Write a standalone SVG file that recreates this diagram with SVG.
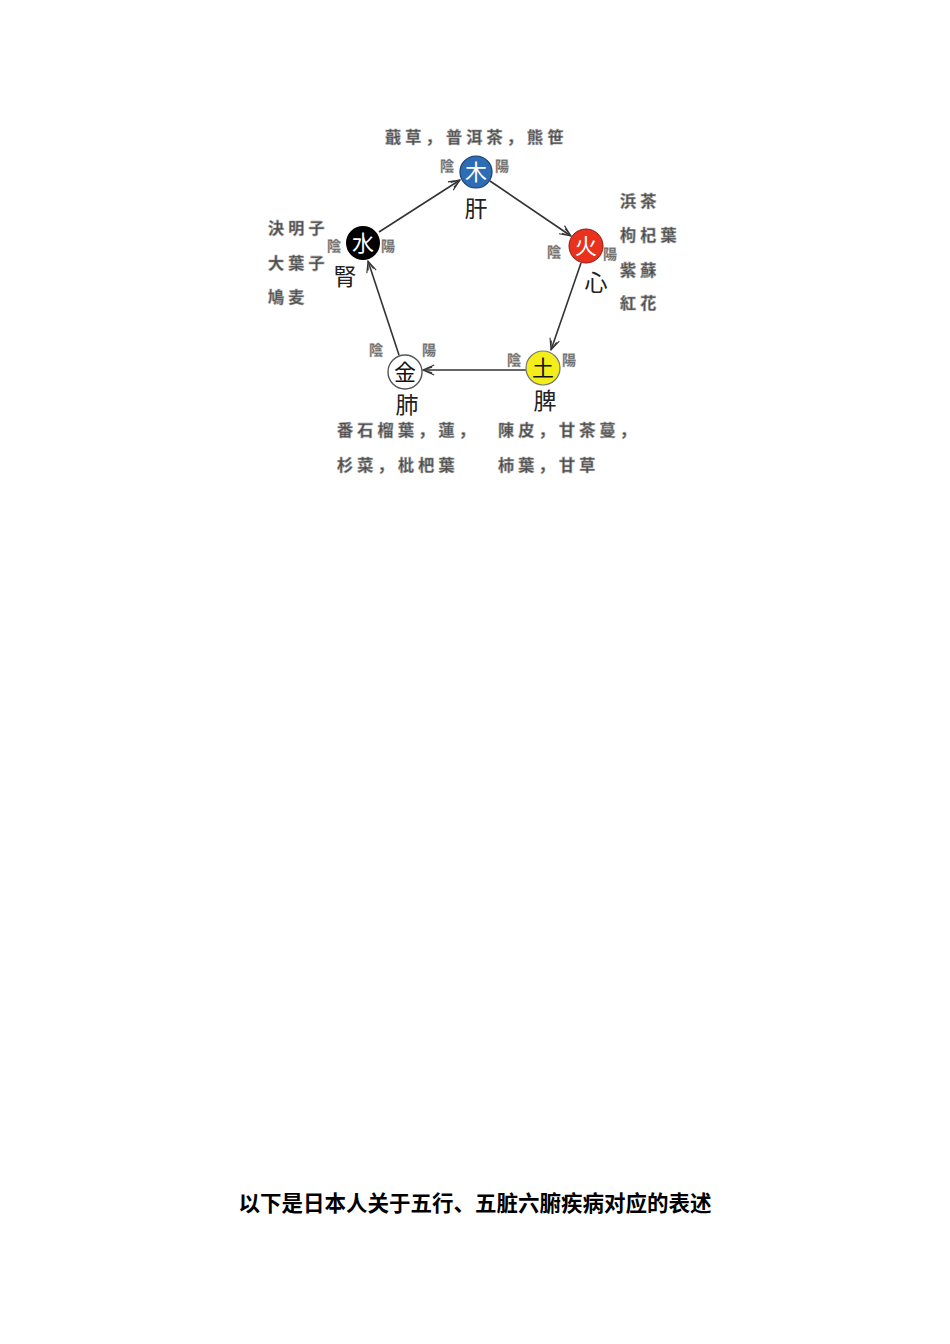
<svg xmlns="http://www.w3.org/2000/svg" width="950" height="1344" viewBox="0 0 950 1344">
<style>
.herb{font-family:"Noto Sans CJK JP","Noto Sans CJK SC",sans-serif;font-size:16px;font-weight:bold;fill:#4a4a4a;stroke:#999;stroke-width:0.6;letter-spacing:4.3px}
.yy{font-family:"Noto Sans CJK JP","Noto Sans CJK SC",sans-serif;font-size:14px;font-weight:bold;fill:#666;stroke:#aaa;stroke-width:0.4}
.organ{font-family:"Noto Sans CJK JP","Noto Sans CJK SC",sans-serif;font-size:23px;fill:#222;text-anchor:middle}
.elem{font-family:"Noto Sans CJK JP","Noto Sans CJK SC",sans-serif;font-size:22px;text-anchor:middle}
.edge{stroke:#333;stroke-width:1.6;fill:none;marker-end:url(#arr)}
.title{font-family:"Noto Sans CJK SC",sans-serif;font-size:21.5px;font-weight:bold;fill:#000;text-anchor:middle}
</style>
<defs>
<marker id="arr" viewBox="0 0 20 20" refX="18" refY="10" markerWidth="14" markerHeight="14" markerUnits="userSpaceOnUse" orient="auto">
<path d="M2,3 L18,10 L2,17 M5,6 L18,10 M5,14 L18,10" stroke="#333" stroke-width="1.6" fill="none"/>
</marker>
</defs>
<rect width="950" height="1344" fill="#fff"/>
<g id="connectors">
<line class="edge" x1="379" y1="232" x2="460" y2="180"/>
<line class="edge" x1="490" y1="181" x2="571" y2="236"/>
<line class="edge" x1="581" y1="263" x2="551" y2="350"/>
<line class="edge" x1="526" y1="370" x2="423" y2="370"/>
<line class="edge" x1="399" y1="355" x2="368" y2="261"/>
</g>
<g id="wood">
<text class="herb" x="385" y="143">蕺草，普洱茶，熊笹</text>
<text class="yy" x="440" y="171">陰</text>
<text class="yy" x="495" y="171">陽</text>
<circle cx="476" cy="172" r="16" fill="#2d6db4" stroke="#1a3e6e" stroke-width="1.2"/>
<text class="elem" x="476" y="180" fill="#fff">木</text>
<text class="organ" x="476" y="217">肝</text>
</g>
<g id="fire">
<text class="herb" x="620" y="207">浜茶</text>
<text class="herb" x="620" y="241">枸杞葉</text>
<text class="herb" x="620" y="276">紫蘇</text>
<text class="herb" x="620" y="309">紅花</text>
<text class="yy" x="547" y="257">陰</text>
<text class="yy" x="603" y="259">陽</text>
<circle cx="586" cy="246" r="17" fill="#e8321e" stroke="#8a1a10" stroke-width="1"/>
<text class="elem" x="586" y="254" fill="#fff">火</text>
<text class="organ" x="596" y="291">心</text>
</g>
<g id="earth">
<text class="herb" x="498" y="436">陳皮，甘茶蔓，</text>
<text class="herb" x="498" y="471">柿葉，甘草</text>
<text class="yy" x="507" y="365">陰</text>
<text class="yy" x="562" y="365">陽</text>
<circle cx="543" cy="368" r="17" fill="#f3ee1a" stroke="#777" stroke-width="1.2"/>
<text class="elem" x="543" y="376" fill="#111">土</text>
<text class="organ" x="545" y="409">脾</text>
</g>
<g id="metal">
<text class="herb" x="337" y="436">番石榴葉，蓮，</text>
<text class="herb" x="337" y="471">杉菜，枇杷葉</text>
<text class="yy" x="369" y="355">陰</text>
<text class="yy" x="422" y="355">陽</text>
<circle cx="405" cy="372" r="17" fill="#fff" stroke="#555" stroke-width="1.4"/>
<text class="elem" x="405" y="380" fill="#111">金</text>
<text class="organ" x="407" y="413">肺</text>
</g>
<g id="water">
<text class="herb" x="268" y="234">決明子</text>
<text class="herb" x="268" y="269">大葉子</text>
<text class="herb" x="268" y="303">鳩麦</text>
<text class="yy" x="327" y="251">陰</text>
<text class="yy" x="381" y="251">陽</text>
<circle cx="363" cy="243" r="17" fill="#000"/>
<text class="elem" x="363" y="251" fill="#fff">水</text>
<text class="organ" x="345" y="285">腎</text>
</g>
<text class="title" x="475" y="1211">以下是日本人关于五行、五脏六腑疾病对应的表述</text>
</svg>
